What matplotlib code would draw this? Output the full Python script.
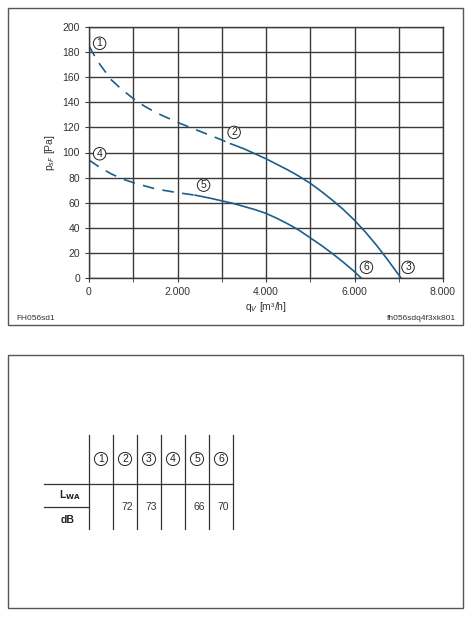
import matplotlib
matplotlib.use('Agg')
import matplotlib.pyplot as plt
from matplotlib.patches import Rectangle
from matplotlib.ticker import MultipleLocator, FuncFormatter

# Kennlinien (q_V in m3/h, p in Pa)
q_high_dash = [0, 125, 250, 375, 500, 750, 1000, 1250, 1500, 1750, 2000, 2250, 2500, 2750, 3000, 3200]
p_high_dash = [185, 177, 170, 164, 158, 150, 143, 137, 132, 128, 124, 120.5, 117, 113.5, 110, 107]
q_high = [3200, 3500, 3750, 4000, 4250, 4500, 4750, 5000, 5250, 5500, 5750, 6000, 6250, 6500, 6750, 7050]
p_high = [107, 103, 99, 95, 90.5, 86, 81, 75.5, 69, 62, 54.5, 46, 36.5, 26, 14.5, 0]

q_low_dash = [0, 125, 250, 375, 500, 750, 1000, 1250, 1500, 1750, 2000, 2200, 2400]
p_low_dash = [94, 91, 88, 85.5, 83, 79, 76, 73.5, 71, 69.5, 68, 67, 66]
q_low = [2400, 2750, 3000, 3250, 3500, 3750, 4000, 4250, 4500, 4750, 5000, 5250, 5500, 5750, 6000, 6150]
p_low = [66, 63.5, 61.5, 59.5, 57, 54.5, 51.5, 47.5, 43, 38, 32, 26, 19.5, 12.5, 5, 0]

# Betriebspunkte
punkt_nr = ['1', '2', '3', '4', '5', '6']
punkt_q = [240, 3280, 7210, 240, 2590, 6270]
punkt_p = [187, 116, 8.5, 99, 74, 8.5]

# Schallleistung L_WA je Punkt
lwa_db = ['', '72', '73', '', '66', '70']

BLUE = '#1b5e8c'
GRID = '#3a3a3a'

fig = plt.figure(figsize=(4.75, 6.18), dpi=100)
plt.rcParams['font.family'] = ['Liberation Sans', 'DejaVu Sans']

# Rahmen + Tabelle in Pixelkoordinaten
bg = fig.add_axes([0, 0, 1, 1])
bg.set_xlim(0, 475)
bg.set_ylim(618, 0)
bg.axis('off')
bg.add_patch(Rectangle((8, 8), 455, 317, fill=False, ec='#555555', lw=1))
bg.add_patch(Rectangle((8, 355), 455, 253, fill=False, ec='#555555', lw=1))

bg.text(16, 322, 'FH056sd1', fontsize=6, va='bottom', color='#333333')
bg.text(456, 322, 'fh056sdq4f3xk801', fontsize=6, va='bottom', ha='right', color='#333333')

# Tabelle
col_x = [89, 113, 137, 161, 185, 209, 233]
for x in col_x:
    bg.plot([x, x], [435, 529], color='#333333', lw=0.9)
bg.plot([44, 233], [484, 484], color='#333333', lw=0.9)
bg.plot([44, 89], [507, 507], color='#333333', lw=0.9)
bg.text(70, 502, 'L$_{\\mathbf{WA}}$', fontsize=7.5, fontweight='bold', ha='center', va='bottom', color='#222222')
bg.text(68, 520, 'dB', fontsize=7.5, fontweight='bold', ha='center', va='center', color='#222222')
for i, nr in enumerate(punkt_nr):
    cx = (col_x[i] + col_x[i + 1]) / 2
    bg.text(cx, 459, nr, fontsize=7.5, ha='center', va='center', color='#222222',
            bbox=dict(boxstyle='circle,pad=0.15', fc='white', ec='#222222', lw=0.7))
    bg.text(cx + 2, 507, lwa_db[i], fontsize=7.5, ha='center', va='center', color='#333333')

# Diagramm
ax = fig.add_axes([89 / 475, 340 / 618, 354 / 475, 251 / 618])
dash = (0, (7, 5))
ax.plot(q_high_dash, p_high_dash, color=BLUE, lw=1.2, ls=dash)
ax.plot(q_high, p_high, color=BLUE, lw=1.2)
ax.plot(q_low_dash, p_low_dash, color=BLUE, lw=1.2, ls=dash)
ax.plot(q_low, p_low, color=BLUE, lw=1.2)

for nr, q, p in zip(punkt_nr, punkt_q, punkt_p):
    ax.text(q, p, nr, fontsize=7.5, ha='center', va='center', color='#222222', zorder=5,
            bbox=dict(boxstyle='circle,pad=0.12', fc='white', ec='#222222', lw=0.7))

ax.set_xlim(0, 8000)
ax.set_ylim(0, 200)
ax.xaxis.set_major_locator(MultipleLocator(2000))
ax.xaxis.set_minor_locator(MultipleLocator(1000))
ax.yaxis.set_major_locator(MultipleLocator(20))
ax.xaxis.set_major_formatter(FuncFormatter(lambda v, p: '0' if v == 0 else f'{int(v):,}'.replace(',', '.')))
ax.grid(True, which='both', color=GRID, lw=1.0)
for s in ax.spines.values():
    s.set_color(GRID)
    s.set_linewidth(1.0)
ax.tick_params(which='both', length=3, color=GRID, labelsize=7.5, labelcolor='#333333')
ax.set_xlabel('q$_V$ [m³/h]', fontsize=7.5, color='#333333', labelpad=2)
ax.set_ylabel('p$_{sF}$ [Pa]', fontsize=7.5, color='#333333', labelpad=4)

fig.savefig('out.png', dpi=100)
